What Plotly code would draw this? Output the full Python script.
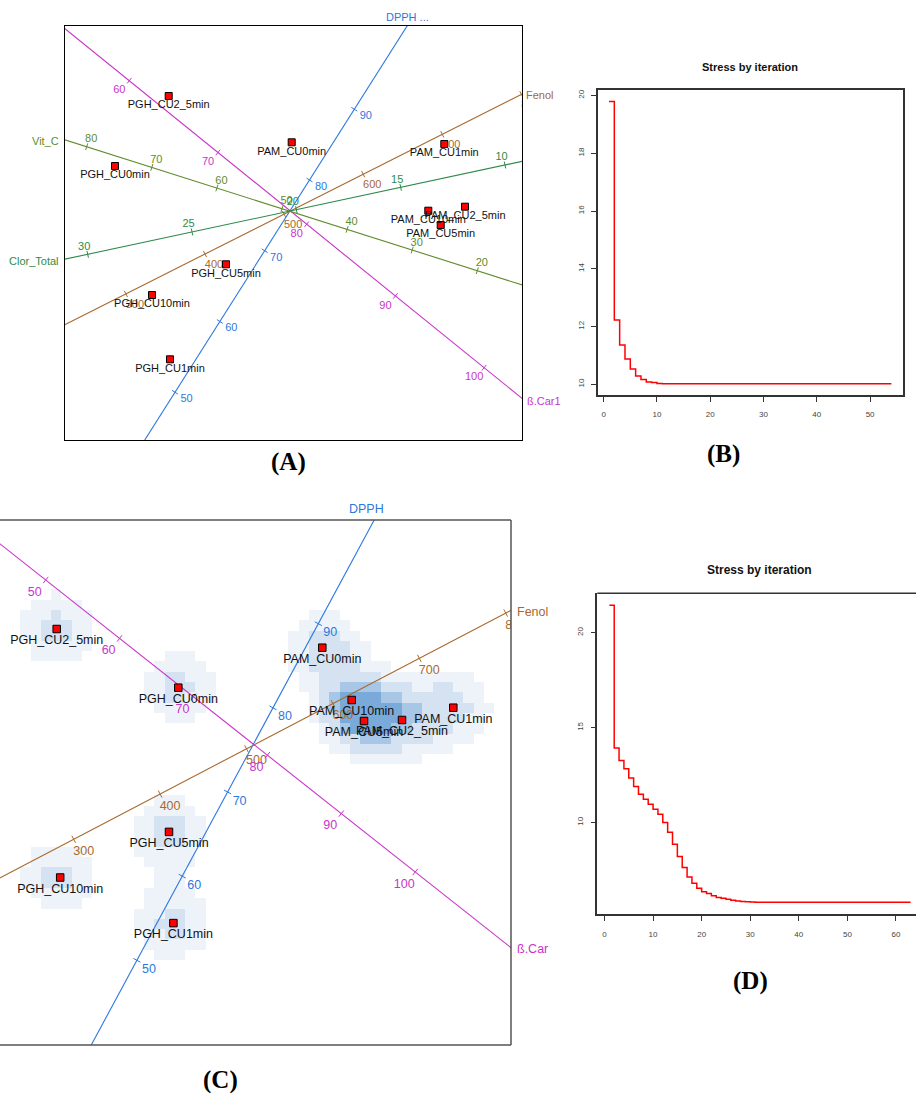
import numpy as np
import plotly.graph_objects as go

# ---------------- data ----------------
samples = ["PGH_CU2_5min", "PAM_CU0min", "PGH_CU0min", "PAM_CU1min", "PAM_CU10min",
           "PAM_CU2_5min", "PAM_CU5min", "PGH_CU5min", "PGH_CU10min", "PGH_CU1min"]

# Panel A: MDS coordinates
a_dim1 = [-1.203, 0.027, -1.740, 1.553, 1.393, 1.760, 1.517, -0.630, -1.370, -1.190]
a_dim2 = [1.140, 0.677, 0.440, 0.660, -0.007, 0.033, -0.150, -0.543, -0.850, -1.493]

# Panel A calibrated variable axes
a_var_names = ["DPPH ...", "ß.Car1", "Fenol", "Vit_C", "Clor_Total"]
a_var_ticks = [[50, 60, 70, 80, 90], [60, 70, 80, 90, 100], [300, 400, 500, 600, 700, 800],
               [20, 30, 40, 50, 60, 70, 80], [10, 15, 20, 25, 30]]
a_var_ref_value = [80, 60, 700, 80, 10]
a_var_ref_dim1 = [0.205, -1.597, 1.533, -2.023, 2.160]
a_var_ref_dim2 = [0.300, 1.293, 0.757, 0.633, 0.450]
a_var_unit_dim1 = [0.04483, 0.0887, 0.00791, -0.0651, -0.20865]
a_var_unit_dim2 = [0.07075, -0.07175, 0.00399, 0.02067, -0.04465]

# Panel C: MDS coordinates
c_dim1 = [-1.933, 0.723, -0.717, 2.033, 1.017, 1.520, 1.140, -0.810, -1.898, -0.766]
c_dim2 = [1.160, 0.973, 0.573, 0.373, 0.450, 0.250, 0.240, -0.869, -1.325, -1.781]

# Panel C calibrated variable axes
c_var_names = ["DPPH", "Fenol", "ß.Car"]
c_var_ticks = [[50, 60, 70, 80, 90], [300, 400, 500, 600, 700, 800], [50, 60, 70, 80, 90, 100]]
c_var_ref_value = [90, 700, 50]
c_var_ref_dim1 = [0.683, 1.693, -2.043]
c_var_ref_dim2 = [1.213, 0.867, 1.650]
c_var_unit_dim1 = [0.04535, 0.00864, 0.0739]
c_var_unit_dim2 = [0.08415, 0.004525, -0.0584]

# Panel B / D: stress by iteration
stress_b = [19.79, 12.23, 11.36, 10.88, 10.53, 10.29, 10.17, 10.08, 10.06, 10.03,
            10.02, 10.02, 10.02, 10.02, 10.02, 10.02, 10.02, 10.02, 10.02, 10.02, 10.02,
            10.02, 10.02, 10.02, 10.02, 10.02, 10.02, 10.02, 10.02, 10.02, 10.02, 10.02,
            10.02, 10.02, 10.02, 10.02, 10.02, 10.02, 10.02, 10.02, 10.02, 10.02, 10.02,
            10.02, 10.02, 10.02, 10.02, 10.02, 10.02, 10.02, 10.02, 10.02, 10.02, 10.02]
stress_d = [21.44, 13.92, 13.27, 12.83, 12.34, 11.90, 11.49, 11.23, 10.97, 10.70,
            10.44, 10.00, 9.49, 8.86, 8.21, 7.63, 7.14, 6.80, 6.54, 6.36,
            6.26, 6.15, 6.06, 6.01, 5.96, 5.91, 5.87, 5.85, 5.83, 5.82, 5.81,
            5.80, 5.80, 5.80, 5.80, 5.80, 5.80, 5.80, 5.80,
            5.80, 5.80, 5.80, 5.80, 5.80, 5.80, 5.80, 5.80,
            5.80, 5.80, 5.80, 5.80, 5.80, 5.80, 5.80, 5.80,
            5.80, 5.80, 5.80, 5.80, 5.80, 5.80, 5.80, 5.80]
b_xticks = [0, 10, 20, 30, 40, 50]
b_yticks = [10, 12, 14, 16, 18, 20]
d_xticks = [0, 10, 20, 30, 40, 50, 60]
d_yticks = [10, 15, 20]

# ---------------- styles ----------------
W, H = 916, 1093
SANS = "Liberation Sans, Arial, sans-serif"
SERIF = "Liberation Serif, Times New Roman, serif"
BLUE, MAG, BROWN, OLIVE, GREEN = "#2D78E0", "#C935C9", "#A8692E", "#5F8C2D", "#2E8B4A"
a_colors = [BLUE, MAG, BROWN, OLIVE, GREEN]
c_colors = [BLUE, BROWN, MAG]
# tick-label offsets (px) and axis-name placement
a_lab_off = [(11.5, 7), (-10, 10), (9, 11), (4.5, -7), (-3.5, -7.5)]
a_name_style = [dict(xanchor="center", xshift=0, yshift=9),
                dict(xanchor="left", xshift=3, yshift=-3),
                dict(xanchor="left", xshift=2, yshift=-1),
                dict(xanchor="right", xshift=-4, yshift=-1),
                dict(xanchor="right", xshift=-4, yshift=-2)]
c_lab_off = [(12, 9.5), (10, 12.5), (-11, 12.7)]
c_name_style = [dict(xanchor="center", xshift=-8, yshift=11),
                dict(xanchor="left", xshift=4, yshift=-2),
                dict(xanchor="left", xshift=4, yshift=-1)]

a_xr, a_yr = [-2.24, 2.33], [-2.30, 1.84]
c_xr, c_yr = [-2.50, 2.61], [-3.00, 2.25]
PX = 100.0  # pixels per MDS unit in both biplots


def dom_x(a, b):
    return [a / W, min(b / W, 1.0)]


def dom_y(top, bottom):
    return [1 - bottom / H, 1 - top / H]


fig = go.Figure()


def exit_point(x0, y0, ex, ey, xr, yr):
    ts = []
    if ex > 0:
        ts.append((xr[1] - x0) / ex)
    if ex < 0:
        ts.append((xr[0] - x0) / ex)
    if ey > 0:
        ts.append((yr[1] - y0) / ey)
    if ey < 0:
        ts.append((yr[0] - y0) / ey)
    t = min(ts) - 1e-4
    return x0 + t * ex, y0 + t * ey


def add_biplot(xa, ya, names, ticks, refv, r1, r2, u1, u2, colors, lab_off, name_style,
               ticklen, fsize, xr, yr):
    for i in range(len(names)):
        col = colors[i]
        ux, uy = u1[i], u2[i]
        nrm = np.hypot(ux, uy)
        ex, ey = ux / nrm, uy / nrm
        L = 20
        fig.add_trace(go.Scatter(x=[r1[i] - L * ex, r1[i] + L * ex], y=[r2[i] - L * ey, r2[i] + L * ey],
                                 mode="lines", line=dict(color=col, width=1.1),
                                 xaxis=xa, yaxis=ya, hoverinfo="skip", showlegend=False))
        tv = np.array(ticks[i], dtype=float)
        px = r1[i] + (tv - refv[i]) * ux
        py = r2[i] + (tv - refv[i]) * uy
        nx, ny = -ey, ex
        tx, ty = [], []
        for a, b in zip(px, py):
            tx += [a - ticklen * nx, a + ticklen * nx, None]
            ty += [b - ticklen * ny, b + ticklen * ny, None]
        fig.add_trace(go.Scatter(x=tx, y=ty, mode="lines", line=dict(color=col, width=1),
                                 xaxis=xa, yaxis=ya, hoverinfo="skip", showlegend=False))
        ox, oy = lab_off[i]
        fig.add_trace(go.Scatter(x=px + ox / PX, y=py - oy / PX, mode="text",
                                 text=[str(t) for t in ticks[i]],
                                 textfont=dict(color=col, size=fsize, family=SANS),
                                 textposition="middle center", cliponaxis=True,
                                 xaxis=xa, yaxis=ya, hoverinfo="skip", showlegend=False))
        qx, qy = exit_point(r1[i], r2[i], ex, ey, xr, yr)
        st = name_style[i]
        fig.add_annotation(x=qx, y=qy, xref=xa, yref=ya, text=names[i], showarrow=False,
                           xanchor=st["xanchor"], yanchor="middle", xshift=st["xshift"],
                           yshift=st["yshift"], font=dict(color=col, size=fsize, family=SANS))


def add_points(xa, ya, d1, d2, size, fsize, lab_dy):
    fig.add_trace(go.Scatter(x=d1, y=d2, mode="markers",
                             marker=dict(symbol="square", size=size, color="#FF0000",
                                         line=dict(color="black", width=1)),
                             xaxis=xa, yaxis=ya, hoverinfo="skip", showlegend=False))
    fig.add_trace(go.Scatter(x=d1, y=[v - lab_dy for v in d2], mode="text", text=samples,
                             textfont=dict(color="#111111", size=fsize, family=SANS),
                             textposition="middle center",
                             xaxis=xa, yaxis=ya, hoverinfo="skip", showlegend=False))


# ---------------- Panel C density ----------------
h = 0.27
cell = 0.103
gx0, gy0 = 0.483, 1.35
kx = np.arange(np.floor((c_xr[0] - gx0) / cell) - 1, np.ceil((c_xr[1] - gx0) / cell) + 1)
ky = np.arange(np.floor((c_yr[0] - gy0) / cell) - 1, np.ceil((c_yr[1] - gy0) / cell) + 1)
xc = gx0 + (kx + 0.5) * cell
yc = gy0 + (ky + 0.5) * cell
X, Y = np.meshgrid(xc, yc)
dens = np.zeros_like(X)
for px_, py_ in zip(c_dim1, c_dim2):
    dens += np.exp(-((X - px_) ** 2 + (Y - py_) ** 2) / (2 * h * h))
lev = np.digitize(dens, [0.42, 0.85, 1.32, 1.65]).astype(float)
lev[lev == 0] = np.nan
c1, c2, c3, c4 = "#EEF3FA", "#D4E2F2", "#A8C6E6", "#7AAAD9"
fig.add_trace(go.Heatmap(x=xc, y=yc, z=lev, zmin=0.5, zmax=4.5, showscale=False,
                         colorscale=[[0, c1], [0.25, c1], [0.25, c2], [0.5, c2], [0.5, c3],
                                     [0.75, c3], [0.75, c4], [1, c4]],
                         xaxis="x3", yaxis="y3", hoverinfo="skip", zsmooth=False))

# ---------------- biplots ----------------
add_biplot("x", "y", a_var_names, a_var_ticks, a_var_ref_value, a_var_ref_dim1, a_var_ref_dim2,
           a_var_unit_dim1, a_var_unit_dim2, a_colors, a_lab_off, a_name_style, 0.035, 11, a_xr, a_yr)
add_points("x", "y", a_dim1, a_dim2, 7, 11, 0.095)

add_biplot("x3", "y3", c_var_names, c_var_ticks, c_var_ref_value, c_var_ref_dim1, c_var_ref_dim2,
           c_var_unit_dim1, c_var_unit_dim2, c_colors, c_lab_off, c_name_style, 0.04, 12.5, c_xr, c_yr)
add_points("x3", "y3", c_dim1, c_dim2, 7.5, 12.5, 0.12)

# ---------------- stress plots ----------------
fig.add_trace(go.Scatter(x=list(range(1, len(stress_b) + 1)), y=stress_b, mode="lines",
                         line=dict(color="#FF0000", width=1.5, shape="hv"),
                         xaxis="x2", yaxis="y2", hoverinfo="skip", showlegend=False))
fig.add_trace(go.Scatter(x=list(range(1, len(stress_d) + 1)), y=stress_d, mode="lines",
                         line=dict(color="#FF0000", width=1.5, shape="hv"),
                         xaxis="x4", yaxis="y4", hoverinfo="skip", showlegend=False))

hidden = dict(showgrid=False, zeroline=False, showticklabels=False, ticks="")
stress_ax = dict(showgrid=False, zeroline=False, ticks="outside", ticklen=5, tickwidth=1,
                 tickcolor="#333333", showline=True, linecolor="#333333", linewidth=1.5,
                 tickfont=dict(size=8, color="#444444", family=SANS))

fig.update_layout(
    width=W, height=H, autosize=False,
    margin=dict(l=0, r=0, t=0, b=0),
    paper_bgcolor="white", plot_bgcolor="white",
    showlegend=False,
    xaxis=dict(domain=dom_x(65, 522), range=a_xr, anchor="y", showline=True, mirror=True,
               linecolor="black", linewidth=1, **hidden),
    yaxis=dict(domain=dom_y(26, 440), range=a_yr, anchor="x", showline=True, mirror=True,
               linecolor="black", linewidth=1, **hidden),
    xaxis3=dict(domain=dom_x(0, 511), range=c_xr, anchor="y3", showline=False, **hidden),
    yaxis3=dict(domain=dom_y(520, 1045), range=c_yr, anchor="x3", showline=False, **hidden),
    xaxis2=dict(domain=dom_x(597.7, 902.7), range=[-1.12, 56.12], anchor="y2", mirror=True,
                tickvals=b_xticks, ticklabelstandoff=6, **stress_ax),
    yaxis2=dict(domain=dom_y(90, 395), range=[9.63, 20.19], anchor="x2", mirror=True,
                tickvals=b_yticks, tickangle=-90, ticklabelstandoff=4, **stress_ax),
    xaxis4=dict(domain=dom_x(597.3, 916), range=[-1.48, 64.12], anchor="y4", mirror=False,
                tickvals=d_xticks, ticklabelstandoff=6, **stress_ax),
    yaxis4=dict(domain=dom_y(593.3, 914.3), range=[5.17, 22.07], anchor="x4", mirror=False,
                tickvals=d_yticks, tickangle=-90, ticklabelstandoff=4, **stress_ax),
)

# frames for C (left side cut off) and top of D
for (x0, y0, x1, y1) in [(0, 1, 1, 1), (1, 0, 1, 1), (0, 0, 1, 0)]:
    fig.add_shape(type="line", xref="x3 domain", yref="y3 domain", x0=x0, y0=y0, x1=x1, y1=y1,
                  line=dict(color="#555555", width=1.5))
fig.add_shape(type="line", xref="x4 domain", yref="y4 domain", x0=0, y0=1, x1=1, y1=1,
              line=dict(color="#333333", width=1.5))

# titles
fig.add_annotation(xref="x2 domain", yref="y2 domain", x=0.5, y=1, yshift=23, showarrow=False,
                   xanchor="center", yanchor="middle", text="<b>Stress by iteration</b>",
                   font=dict(size=11, color="#111111", family=SANS))
fig.add_annotation(xref="x4", yref="y4 domain", x=32, y=1, yshift=23, showarrow=False,
                   xanchor="center", yanchor="middle", text="<b>Stress by iteration</b>",
                   font=dict(size=12, color="#111111", family=SANS))

# panel letters
for lab, cx, cy in [("(A)", 288, 462), ("(B)", 723, 454), ("(C)", 220, 1080), ("(D)", 750, 981)]:
    fig.add_annotation(xref="paper", yref="paper", x=cx / W, y=1 - cy / H, showarrow=False,
                       xanchor="center", yanchor="middle", text="<b>" + lab + "</b>",
                       font=dict(size=25, color="black", family=SERIF))

fig.write_html("out.html")
